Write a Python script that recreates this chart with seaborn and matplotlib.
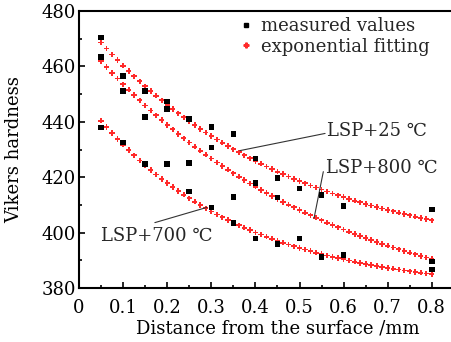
import numpy as np
import pandas as pd
import matplotlib
matplotlib.use("Agg")
import matplotlib.pyplot as plt
from matplotlib.ticker import MultipleLocator, FixedLocator, FuncFormatter
import seaborn as sns

# Measured values (distance mm, Vickers hardness)
meas_x = [0.05, 0.05, 0.05, 0.1, 0.1, 0.1, 0.15, 0.15, 0.15, 0.2, 0.2, 0.2,
          0.25, 0.25, 0.25, 0.3, 0.3, 0.3, 0.35, 0.35, 0.35, 0.4, 0.4, 0.4,
          0.45, 0.45, 0.45, 0.5, 0.5, 0.55, 0.55, 0.6, 0.6, 0.8, 0.8, 0.8]
meas_y = [470.4, 463.3, 438.0, 456.5, 451.1, 432.6, 451.1, 441.8, 424.8,
          447.4, 444.7, 424.8, 441.0, 425.2, 414.9, 438.1, 430.7, 409.0,
          435.5, 412.9, 403.4, 426.7, 417.9, 397.8, 419.8, 412.7, 395.8,
          416.0, 397.8, 413.6, 391.2, 409.7, 392.0, 408.4, 389.6, 386.6]

# Exponential fitting parameters y = y0 + A*exp(-x/t)
fit_names = ["LSP+25 ℃", "LSP+800 ℃", "LSP+700 ℃"]
fit_y0 = [389.6, 366.4, 378.6]
fit_A = [88.3, 104.8, 71.9]
fit_t = [0.449, 0.543, 0.331]
fit_range = [0.05, 0.8]

x_ticks = [0, 0.1, 0.2, 0.3, 0.4, 0.5, 0.6, 0.7, 0.8]
y_ticks = [380, 400, 420, 440, 460, 480]

sns.set_theme(style="ticks")
plt.rcParams['font.family'] = ['DejaVu Serif']

FS = 13

fig = plt.figure(figsize=(4.52, 3.42), dpi=100)
ax = fig.add_axes([79/452, 54/342, 0.9*441/452, 277/342])

fx = np.linspace(fit_range[0], fit_range[1], 61)
rows = []
for name, y0, A, t in zip(fit_names, fit_y0, fit_A, fit_t):
    for xv in fx:
        rows.append((name, xv, y0 + A*np.exp(-xv/t)))
fit_df = pd.DataFrame(rows, columns=["curve", "x", "y"])
meas_df = pd.DataFrame({"x": meas_x, "y": meas_y})

sns.scatterplot(data=fit_df, x="x", y="y", ax=ax, marker="P", s=15,
                color="#ff2a2a", edgecolor="none", linewidth=0, zorder=2,
                legend=False)
sns.scatterplot(data=meas_df, x="x", y="y", ax=ax, marker="s", s=16,
                color="black", edgecolor="none", linewidth=0, zorder=3,
                legend=False)

ax.set_xlim(0, 0.9)
ax.set_ylim(380, 480)
ax.xaxis.set_major_locator(FixedLocator(x_ticks))
ax.xaxis.set_minor_locator(FixedLocator([0.05 + 0.1*i for i in range(8)]))
ax.yaxis.set_major_locator(FixedLocator(y_ticks))
ax.yaxis.set_minor_locator(MultipleLocator(10))
ax.xaxis.set_major_formatter(FuncFormatter(lambda v, p: "0" if abs(v) < 1e-9 else f"{v:.1f}"))
ax.tick_params(which="both", direction="in", top=False, right=False, width=1.2,
               labelsize=FS, colors="black")
ax.tick_params(axis="y", pad=2)
ax.tick_params(axis="x", pad=8)
ax.tick_params(which="major", length=4)
ax.tick_params(which="minor", length=2.5)
for s in ax.spines.values():
    s.set_linewidth(1.5)
    s.set_color("black")
ax.spines["right"].set_visible(False)

ax.set_xlabel("Distance from the surface /mm", fontsize=FS, labelpad=2, color="black")
ax.set_ylabel("Vikers hardness", fontsize=FS, labelpad=13, color="black")

# Legend
h_m = plt.Line2D([], [], marker="s", color="black", linestyle="none", markersize=3.5)
h_f = plt.Line2D([], [], marker="P", color="#ff2a2a", linestyle="none", markersize=3.5)
ax.legend([h_m, h_f], ["measured values", "exponential fitting"], loc="upper left",
          bbox_to_anchor=(0.39, 1.005), frameon=False, fontsize=FS,
          handlelength=0.5, handletextpad=0.6, labelspacing=0.15, borderaxespad=0)

# Annotations
ann = [
    ("LSP+25 ℃", (0.562, 436.7)),
    ("LSP+800 ℃", (0.560, 423.3)),
    ("LSP+700 ℃", (0.049, 398.8)),
]
for txt, xytext in ann:
    ax.text(xytext[0], xytext[1], txt, fontsize=FS, va="center", ha="left")
ax.plot([0.365, 0.558], [429.6, 435.8], color="#333333", lw=0.8)
ax.plot([0.533, 0.554], [405.2, 422.0], color="#333333", lw=0.8)
ax.plot([0.172, 0.290], [403.6, 409.1], color="#333333", lw=0.8)

fig.savefig("out.png", dpi=100)
